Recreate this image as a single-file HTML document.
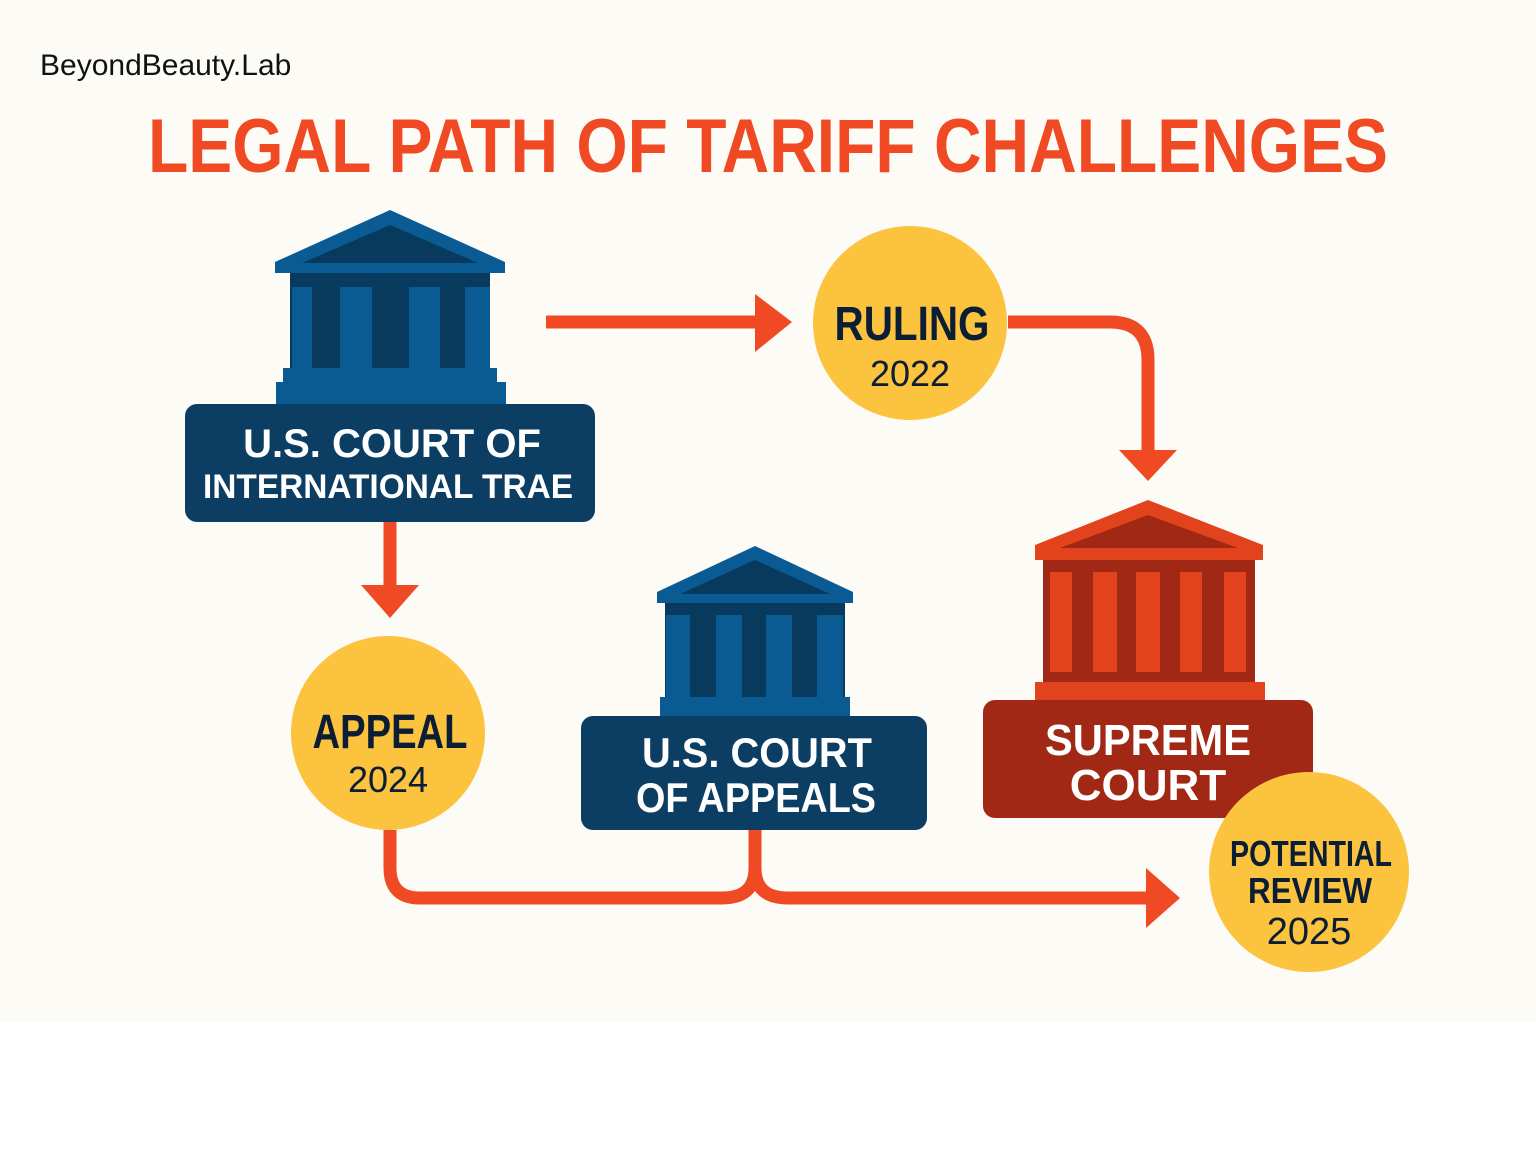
<!DOCTYPE html>
<html><head><meta charset="utf-8"><style>
body{margin:0;background:#fff}
svg{display:block}
text{font-family:"Liberation Sans",sans-serif;font-weight:bold;text-anchor:middle}
</style></head><body>
<svg width="1536" height="1154" viewBox="0 0 1536 1154" xmlns="http://www.w3.org/2000/svg">
<rect x="0" y="0" width="1536" height="1022" fill="#fdfbf6"/>
<text x="40" y="75" style="text-anchor:start;font-weight:normal;font-size:30px" fill="#111">BeyondBeauty.Lab</text>
<text x="768" y="172" font-size="76" fill="#ef4a23" textLength="1240" lengthAdjust="spacingAndGlyphs">LEGAL PATH OF TARIFF CHALLENGES</text>

<g fill="none" stroke="#ef4a23" stroke-width="13">
<path d="M546 322 H765"/>
<path d="M1008 322 H1110 Q1148 322 1148 360 V455"/>
<path d="M390 522 V590"/>
<path d="M390 830 V868 Q390 898 420 898 H722 Q755 898 755 868 V830"/>
<path d="M755 868 Q755 898 788 898 H1150"/>
</g>
<g fill="#ef4a23">
<polygon points="755,294 792,322 755,352"/>
<polygon points="1119,450 1177,450 1148,481"/>
<polygon points="361,585 419,585 390,618"/>
<polygon points="1146,868 1180,898 1146,928"/>
</g>

<g>
<polygon points="390,210 505,262 505,273 275,273 275,262" fill="#0a5a94"/>
<polygon points="390,225 478,263 302,263" fill="#073a5c"/>
<rect x="290" y="273" width="200" height="97" fill="#073a5c"/>
<g fill="#0a5a94"><rect x="292" y="287" width="20" height="82"/><rect x="340" y="287" width="32" height="82"/><rect x="409" y="287" width="31" height="82"/><rect x="465" y="287" width="25" height="82"/>
<rect x="283" y="368" width="214" height="14"/><rect x="276" y="382" width="230" height="24"/></g>
<rect x="185" y="404" width="410" height="118" rx="12" fill="#0c3d63"/>
<text x="392" y="457" font-size="40" fill="#fff">U.S. COURT OF</text>
<text x="388" y="498" font-size="34" fill="#fff" textLength="370" lengthAdjust="spacingAndGlyphs">INTERNATIONAL TRAE</text>
</g>

<g>
<polygon points="755,546 853,592 853,603 657,603 657,592" fill="#0a5a94"/>
<polygon points="755,560 830,594 680,594" fill="#073a5c"/>
<rect x="665" y="603" width="180" height="98" fill="#073a5c"/>
<g fill="#0a5a94"><rect x="666" y="615" width="24" height="84"/><rect x="716" y="615" width="26" height="84"/><rect x="766" y="615" width="26" height="84"/><rect x="817" y="615" width="26" height="84"/>
<rect x="660" y="697" width="190" height="21"/></g>
<rect x="581" y="716" width="346" height="114" rx="12" fill="#0c3d63"/>
<text x="757" y="767" font-size="42" fill="#fff" textLength="230" lengthAdjust="spacingAndGlyphs">U.S. COURT</text>
<text x="756" y="812" font-size="42" fill="#fff" textLength="240" lengthAdjust="spacingAndGlyphs">OF APPEALS</text>
</g>

<g>
<polygon points="1148,500 1263,545 1263,560 1035,560 1035,545" fill="#e2431d"/>
<polygon points="1148,515 1238,548 1060,548" fill="#a02814"/>
<rect x="1043" y="560" width="212" height="122" fill="#a02814"/>
<g fill="#e2431d"><rect x="1050" y="572" width="22" height="100"/><rect x="1093" y="572" width="24" height="100"/><rect x="1136" y="572" width="24" height="100"/><rect x="1180" y="572" width="22" height="100"/><rect x="1224" y="572" width="22" height="100"/>
<rect x="1035" y="682" width="230" height="22"/></g>
<rect x="983" y="700" width="330" height="118" rx="12" fill="#a02814"/>
<text x="1148" y="755" font-size="44" fill="#fff" textLength="206" lengthAdjust="spacingAndGlyphs">SUPREME</text>
<text x="1148" y="800" font-size="44" fill="#fff">COURT</text>
</g>

<circle cx="910" cy="323" r="97" fill="#fcc33f"/>
<text x="912" y="340" font-size="48" fill="#0b1e33" textLength="155" lengthAdjust="spacingAndGlyphs">RULING</text>
<text x="910" y="386" font-size="36" fill="#0b1e33" style="font-weight:normal">2022</text>
<circle cx="388" cy="733" r="97" fill="#fcc33f"/>
<text x="390" y="748" font-size="48" fill="#0b1e33" textLength="155" lengthAdjust="spacingAndGlyphs">APPEAL</text>
<text x="388" y="792" font-size="36" fill="#0b1e33" style="font-weight:normal">2024</text>
<circle cx="1309" cy="872" r="100" fill="#fcc33f"/>
<text x="1311" y="866" font-size="36" fill="#0b1e33" textLength="162" lengthAdjust="spacingAndGlyphs">POTENTIAL</text>
<text x="1310" y="903" font-size="36" fill="#0b1e33" textLength="124" lengthAdjust="spacingAndGlyphs">REVIEW</text>
<text x="1309" y="944" font-size="38" fill="#0b1e33" style="font-weight:normal">2025</text>
</svg>
</body></html>
